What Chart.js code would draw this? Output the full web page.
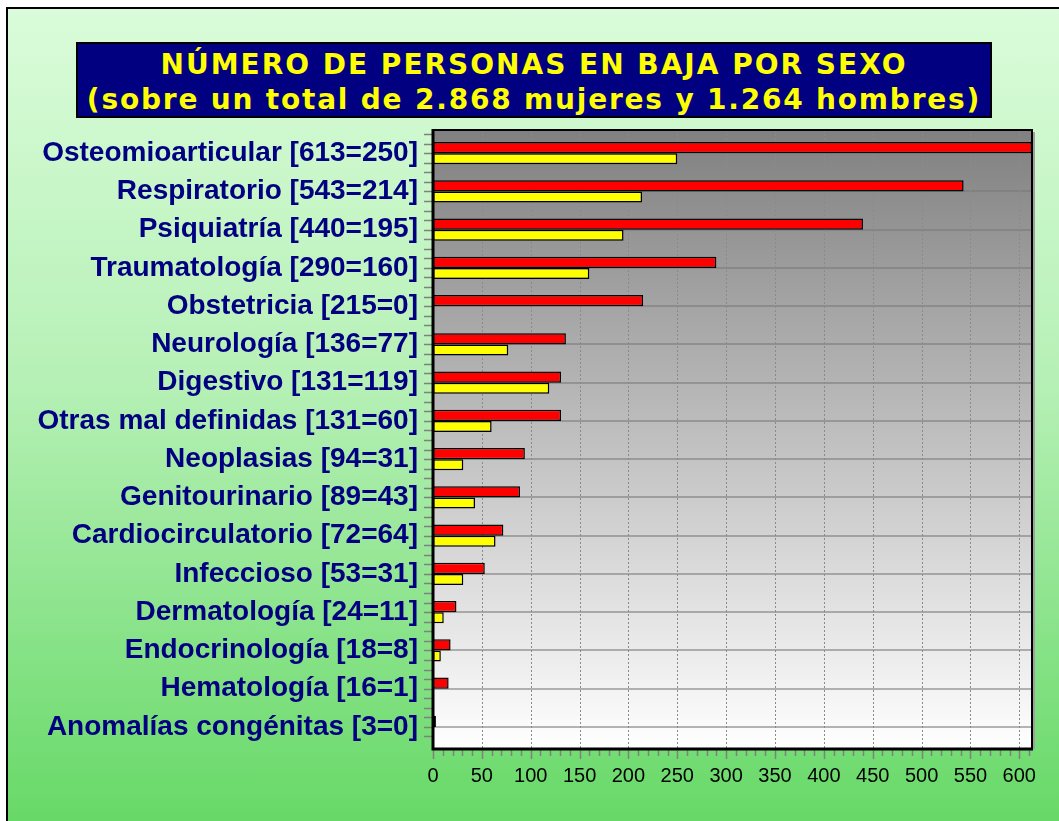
<!DOCTYPE html>
<html>
<head>
<meta charset="utf-8">
<script src="https://cdn.jsdelivr.net/npm/chart.js@4/dist/chart.umd.min.js"></script>
<style>
  html, body { margin: 0; padding: 0; background: #fff; overflow: hidden; }
  body { width: 1059px; height: 821px; position: relative; }
  .frame {
    position: absolute; left: 6px; top: 7px; width: 1100px; height: 830px;
    border: 2px solid #000;
    background: linear-gradient(to bottom, #dafcda 0%, #b6f0b6 45%, #64d864 100%);
  }
  .title {
    position: absolute; left: 76px; top: 42px; width: 916px; height: 76px;
    box-sizing: border-box; border: 2px solid #000; background: #000080;
    color: #ffff00; font-family: "DejaVu Sans", Verdana, sans-serif; font-weight: bold;
    font-size: 28px; letter-spacing: 2px; line-height: 35px; text-align: center;
    padding-top: 3px; white-space: nowrap;
  }
  .title .l2 { letter-spacing: 1.8px; }
  canvas { position: absolute; left: 0; top: 0; }
</style>
</head>
<body>
<div class="frame"></div>
<div class="title">NÚMERO DE PERSONAS EN BAJA POR SEXO<br><span class="l2">(sobre un total de 2.868 mujeres y 1.264 hombres)</span></div>
<canvas id="chart" width="1059" height="821"></canvas>
<script>
const categories = [
  'Osteomioarticular [613=250]',
  'Respiratorio [543=214]',
  'Psiquiatría [440=195]',
  'Traumatología [290=160]',
  'Obstetricia [215=0]',
  'Neurología [136=77]',
  'Digestivo [131=119]',
  'Otras mal definidas [131=60]',
  'Neoplasias [94=31]',
  'Genitourinario [89=43]',
  'Cardiocirculatorio [72=64]',
  'Infeccioso [53=31]',
  'Dermatología [24=11]',
  'Endocrinología [18=8]',
  'Hematología [16=1]',
  'Anomalías congénitas [3=0]'
];
const mujeres = [613, 543, 440, 290, 215, 136, 131, 131, 94, 89, 72, 53, 24, 18, 16, 3];
const hombres = [250, 214, 195, 160, 0, 77, 119, 60, 31, 43, 64, 31, 11, 8, 1, 0];
const xMax = 613;
const xStep = 50;
const xMinorStep = 10;

// background, dotted grid, axis lines and minor ticks
const plotDecor = {
  id: 'plotDecor',
  beforeDraw(chart) {
    const { ctx, chartArea: a } = chart;
    const top = a.top - 4, bottom = a.bottom + 3;
    const g = ctx.createLinearGradient(0, top, 0, bottom);
    g.addColorStop(0, '#808080');
    g.addColorStop(1, '#ffffff');
    ctx.save();
    ctx.fillStyle = g;
    ctx.fillRect(a.left, top, a.right - a.left, bottom - top);
    ctx.restore();
  },
  beforeDatasetsDraw(chart) {
    const { ctx, chartArea: a, scales } = chart;
    const x = scales.x;
    ctx.save();
    ctx.strokeStyle = '#8a8a8a';
    ctx.lineWidth = 1;
    ctx.setLineDash([2, 2]);
    x.ticks.forEach(t => {
      if (t.value === 0) return;
      const px = Math.round(x.getPixelForValue(t.value)) + 0.5;
      ctx.beginPath();
      ctx.moveTo(px, a.top - 4);
      ctx.lineTo(px, a.bottom + 3);
      ctx.stroke();
    });
    ctx.restore();
  },
  afterDraw(chart) {
    const { ctx, chartArea: a, scales } = chart;
    const x = scales.x, y = scales.y;
    const top = a.top - 4, bottom = a.bottom + 3;
    ctx.save();
    // minor ticks on y
    ctx.strokeStyle = '#808080';
    ctx.lineWidth = 1.5;
    const step = (y.getPixelForValue(1) - y.getPixelForValue(0)) / 4;
    for (let i = 0; i < categories.length; i++) {
      const c = y.getPixelForValue(i);
      for (let k = -2; k < 2; k++) {
        const py = Math.round(c + k * step) + 0.5;
        ctx.beginPath();
        ctx.moveTo(a.left - 9, py);
        ctx.lineTo(a.left, py);
        ctx.stroke();
      }
    }
    // ticks on x
    for (let v = 0; v <= xMax; v += xMinorStep) {
      const px = Math.round(x.getPixelForValue(v)) + 0.5;
      ctx.beginPath();
      ctx.moveTo(px, bottom);
      ctx.lineTo(px, bottom + (v % xStep === 0 ? 10 : 7));
      ctx.stroke();
    }
    // frame of the plot
    ctx.strokeStyle = '#000';
    ctx.lineWidth = 2;
    ctx.beginPath();
    ctx.moveTo(a.left, top);
    ctx.lineTo(a.right, top);
    ctx.lineTo(a.right, bottom);
    ctx.stroke();
    ctx.strokeStyle = '#a0a0a0';
    ctx.beginPath();
    ctx.moveTo(a.right + 2, top + 2);
    ctx.lineTo(a.right + 2, bottom);
    ctx.stroke();
    ctx.strokeStyle = '#000';
    ctx.lineWidth = 3;
    ctx.beginPath();
    ctx.moveTo(a.left, top - 1);
    ctx.lineTo(a.left, bottom);
    ctx.lineTo(a.right + 1, bottom);
    ctx.stroke();
    ctx.restore();
  }
};

new Chart(document.getElementById('chart'), {
  type: 'bar',
  data: {
    labels: categories,
    datasets: [
      { label: 'Mujeres', data: mujeres, backgroundColor: '#ff0000', borderColor: '#000', borderWidth: 1.5, borderSkipped: false },
      { label: 'Hombres', data: hombres, backgroundColor: '#ffff00', borderColor: '#000', borderWidth: 1.5, borderSkipped: false }
    ]
  },
  options: {
    indexAxis: 'y',
    responsive: false,
    animation: false,
    devicePixelRatio: 1,
    layout: { padding: { top: 134, right: 27, bottom: 0, left: 0 } },
    datasets: { bar: { categoryPercentage: 0.58, barPercentage: 1.0 } },
    plugins: { legend: { display: false }, tooltip: { enabled: false }, title: { display: false } },
    scales: {
      y: {
        afterFit(s) { s.width = 433; },
        grid: { offset: false, color: 'rgba(120,120,120,0.55)', lineWidth: 2, drawTicks: false },
        border: { display: false },
        ticks: {
          color: '#000080', padding: 15,
          font: { family: '"Liberation Sans", Arial, sans-serif', size: 28, weight: 'bold' }
        }
      },
      x: {
        min: 0, max: xMax,
        afterFit(s) { s.height = 75; },
        afterBuildTicks(s) { s.ticks = s.ticks.filter(t => t.value % xStep === 0); },
        grid: { display: false, drawTicks: false },
        border: { display: false },
        ticks: {
          stepSize: xStep, includeBounds: false, autoSkip: false, color: '#000', padding: 18, maxRotation: 0,
          font: { family: '"Liberation Sans", Arial, sans-serif', size: 20 }
        }
      }
    }
  },
  plugins: [plotDecor]
});
</script>
</body>
</html>
